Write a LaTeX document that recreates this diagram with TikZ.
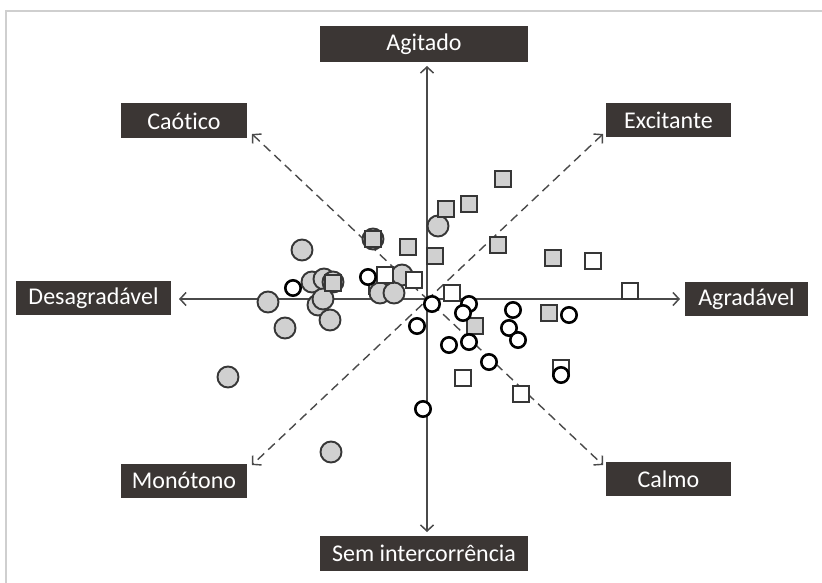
\documentclass[tikz,border=0pt]{standalone}
\usepackage{fontspec}
\setmainfont{Carlito}[Ligatures={NoCommon}]
\usetikzlibrary{arrows.meta}
\definecolor{boxfill}{HTML}{3B3634}
\definecolor{framec}{HTML}{CFCFCF}
\definecolor{axisc}{HTML}{4A4A4A}
\definecolor{mfill}{HTML}{D0D0D0}
\definecolor{medge}{HTML}{363636}
\tikzset{
  lab/.style={fill=boxfill, text=white, inner sep=0pt, font=\fontsize{24}{27}\selectfont, align=center},
  axisline/.style={draw=axisc, line width=1.5pt, {Straight Barb[length=6pt,width=13pt]}-{Straight Barb[length=6pt,width=13pt]}},
  diagline/.style={draw=axisc, line width=1.4pt, dash pattern=on 9pt off 5.5pt, {Straight Barb[length=6pt,width=13pt]}-{Straight Barb[length=6pt,width=13pt]}},
  gcirc/.style={fill=mfill, draw=medge, line width=1.9pt},
  ocirc/.style={fill=white, draw=black, line width=2.6pt},
  gsq/.style={fill=mfill, draw=medge, line width=2pt},
  osq/.style={fill=white, draw=medge, line width=2pt},
}
\begin{document}
\begin{tikzpicture}[x=1pt, y=-1pt]
\useasboundingbox (0,0) rectangle (822,583);
\fill[white] (0,0) rectangle (822,583);
% frame
\draw[framec, line width=1.5pt] (6,583) -- (6,11) -- (822,11);

% labels
\node[lab, minimum width=208pt, minimum height=36pt] (ag) at (424,44) {Agitado};
\node[lab, minimum width=208pt, minimum height=35pt] (sem) at (424,553.5) {Sem intercorrência};
\node[lab, minimum width=126pt, minimum height=35pt] (cao) at (184,121) {Caótico};
\node[lab, minimum width=125pt, minimum height=34pt] (exc) at (668.5,120) {Excitante};
\node[lab, minimum width=155pt, minimum height=34pt] (des) at (93.5,298) {Desagradável};
\node[lab, minimum width=123pt, minimum height=34pt] (agr) at (746.5,299) {Agradável};
\node[lab, minimum width=126pt, minimum height=34pt] (mon) at (184,480.5) {Monótono};
\node[lab, minimum width=125pt, minimum height=34pt] (cal) at (668.5,479) {Calmo};

% arrow tip coordinates
\coordinate (tag) at (427,66);
\coordinate (tsem) at (427,532);
\coordinate (tdes) at (179,299);
\coordinate (tagr) at (680,299);
\coordinate (tcao) at (252,134);
\coordinate (tcal) at (603,465);
\coordinate (texc) at (603,134);
\coordinate (tmon) at (252,465);

% axes
\draw[axisline] (tag) -- (tsem);
\draw[axisline] (tdes) -- (tagr);
\draw[diagline] (tcao) -- (tcal);
\draw[diagline] (texc) -- (tmon);

% square partly hidden behind circles
\draw[gsq] (377,286) ++(-8,-8) rectangle ++(16,16);

% gray circles
\foreach \x/\y in {302/250, 373/239, 438/226, 402/275, 380/293, 394/293,
  312/282, 324/279, 333/282, 268/302, 318/305, 323/299, 330/320, 285/328,
  228/377, 331/452}
  \draw[gcirc] (\x,\y) circle (10.5pt);

% gray squares
\foreach \x/\y in {503/179, 446/209, 469/204, 408/247, 435/256, 498/245,
  553/258, 475/326, 549/313, 373/239, 333/283}
  \draw[gsq] (\x,\y) ++(-8,-8) rectangle ++(16,16);

% open squares
\foreach \x/\y in {593/261, 630/291, 452/293, 385/275, 414/280, 463/378,
  561/368, 521/394}
  \draw[osq] (\x,\y) ++(-8,-8) rectangle ++(16,16);

% open circles
\foreach \x/\y in {293/288, 368/277, 432/304, 469/304, 463/313, 417/326,
  513/310, 569/315, 509/328, 518/340, 449/345, 469/342, 489/362, 561/375,
  423/409}
  \draw[ocirc] (\x,\y) circle (7.7pt);
\end{tikzpicture}
\end{document}
